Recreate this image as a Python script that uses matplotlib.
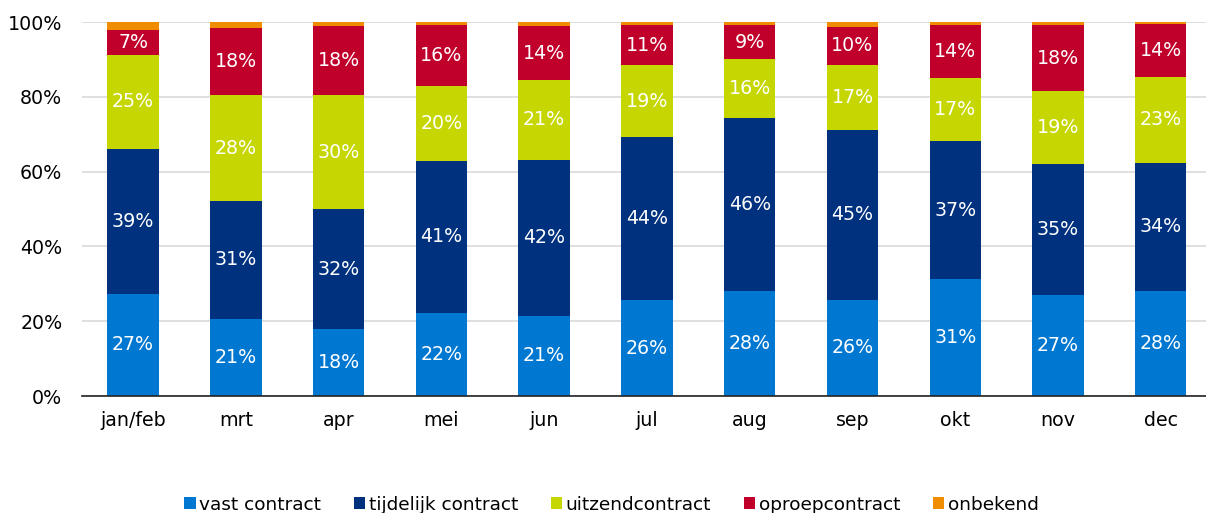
import numpy as np
import matplotlib
matplotlib.use("Agg")
import matplotlib.pyplot as plt
from matplotlib.ticker import PercentFormatter

# Maanden en aandeel per type contract (%)
months = ['jan/feb', 'mrt', 'apr', 'mei', 'jun', 'jul', 'aug', 'sep', 'okt', 'nov', 'dec']
vast = [27.4, 20.7, 17.8, 22.3, 21.4, 25.6, 28.2, 25.8, 31.2, 27.1, 28.0]
tijdelijk = [38.6, 31.4, 32.2, 40.6, 41.7, 43.6, 46.2, 45.3, 37.0, 35.0, 34.4]
uitzend = [25.3, 28.3, 30.4, 20.1, 21.4, 19.2, 15.8, 17.4, 16.7, 19.4, 22.8]
oproep = [6.6, 17.9, 18.4, 16.1, 14.4, 10.8, 8.9, 10.2, 14.2, 17.6, 14.2]
onbekend = [2.1, 1.7, 1.2, 0.9, 1.1, 0.8, 0.9, 1.3, 0.9, 0.9, 0.6]

series = [
    ('vast contract', vast, '#0077d0', True),
    ('tijdelijk contract', tijdelijk, '#00317f', True),
    ('uitzendcontract', uitzend, '#c6d600', True),
    ('oproepcontract', oproep, '#c0002b', True),
    ('onbekend', onbekend, '#f08c00', False),
]

plt.rcParams['font.family'] = ['DejaVu Sans']

fig = plt.figure(figsize=(12.06, 5.13), dpi=100)
ax = fig.add_axes([81.7 / 1206, 1 - 396 / 513, 1 - 81.7 / 1206, (396 - 22) / 513])

x = np.arange(len(months))
bottom = np.zeros(len(months))
for name, vals, color, show in series:
    vals = np.array(vals)
    ax.bar(x, vals, 0.5, bottom=bottom, color=color, label=name, zorder=3)
    if show:
        for xi, b, v in zip(x, bottom, vals):
            ax.text(xi, b + v / 2, '%d%%' % round(v), ha='center', va='center',
                    color='white', fontsize=13.7, zorder=4)
    bottom += vals

ax.set_xlim(-0.5, 10.44)
ax.set_ylim(0, 100)
ax.set_yticks(range(0, 101, 20))
ax.yaxis.set_major_formatter(PercentFormatter(decimals=0))
ax.set_xticks(x)
ax.set_xticklabels(months)
ax.tick_params(axis='both', length=0, labelsize=13.7, colors='black')
ax.tick_params(axis='x', pad=11)
ax.tick_params(axis='y', pad=14)
ax.grid(axis='y', color='#d9d9d9', linewidth=1.2, zorder=0)
for s in ['top', 'right', 'left']:
    ax.spines[s].set_visible(False)
ax.spines['bottom'].set_color('#222222')
ax.spines['bottom'].set_linewidth(1.2)
ax.spines['bottom'].set_zorder(5)

fig.legend(loc='center', bbox_to_anchor=(0.507, 0.016), ncol=5, frameon=False,
           fontsize=13.3, handlelength=0.62, handleheight=0.62, handletextpad=0.2,
           columnspacing=1.75, borderpad=0)

fig.savefig('out.png', dpi=100)
